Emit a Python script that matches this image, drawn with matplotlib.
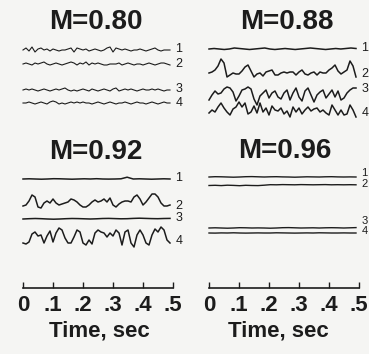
import numpy as np
import matplotlib.pyplot as plt

# values: deflection of each trace in pixels (up = positive)
panel_titles = ["M=0.80", "M=0.88", "M=0.92", "M=0.96"]
channel_names = ["1", "2", "3", "4"]
time_ticks = [0.0, 0.1, 0.2, 0.3, 0.4, 0.5]
time_tick_labels = ["0", ".1", ".2", ".3", ".4", ".5"]

m080_ch1 = [0, 2, -1, 3, -2, 1, 2, 0, 1, -1, 1, 0, -1, 0, 0, 1, 2, -2, 2, 1,
            0, 1, -1, 0, 1, 0, -1, 0, 2, 3, -2, 2, 1, 0, 1, 0, -1, 0, 0, 1,
            0, -1, 0, 1, 2, 0, -1, 0, 0, 0]
m080_ch2 = [0, 1, 0, -1, 1, 0, 1, 2, 0, -1, 0, 1, 0, -1, 0, 1, 2, 1, -1, 1,
            0, 2, -1, 1, 0, 1, 0, -1, -1, 0, 0, 0, 1, -1, 0, 1, 0, -1, 0, 0,
            -1, 0, 1, 0, -1, 0, 1, 1, 0, -1]
m080_ch3 = [0, 1, 0, 1, 0, -1, 0, 1, 0, -1, 0, 1, 0, 1, 2, 0, -1, 0, -1, 0,
            1, 0, -1, 1, 0, -1, 0, 1, 0, -1, 1, 2, -1, 0, 1, 0, 1, 0, -1, 0,
            1, 0, 0, 1, 0, 1, 0, -1, 0, 0]
m080_ch4 = [0, 0, 1, 0, -1, 0, 1, 0, -1, 1, 2, 1, -1, 0, -1, 0, 1, 0, 1, 0,
            1, 0, 0, -1, 0, 1, 0, -1, 0, 1, 0, -1, 0, 0, 1, 0, -1, 0, 1, 0,
            0, -1, 0, 1, 0, -1, 0, 1, 0, 0]

m088_ch1 = [0, 0.5, 0, -0.5, 0, 1, 0.5, 0, -0.5, 0, 0.5, 1, 0, -0.5, 0,
            0.5, 0, -0.5, 0, 0.5, 1, 0.5, 0, -0.5, 0, 0.5, 0, 0.5, 1, 0.5]
m088_ch2 = [0, 1, 3, 7, 14, 10, -4, -2, 0, -1, -1, 2, 6, 8, 2, -4, -1, 0, -3, 1,
            2, 3, -2, -2, 0, 1, 0, 1, 1, -2, 1, 3, -1, -2, 0, 1, -2, 1, 0, 0,
            3, 5, 8, 2, -1, 1, 3, 12, 7, -4]
m088_ch3 = [-5, 0, 4, 1, 2, 6, 8, 7, 3, -6, -1, 5, 6, 8, 6, -4, -10, -1, 2, 5,
            -3, 2, 4, -2, -4, 2, 5, -5, 2, 7, -2, -6, 4, 7, 0, -7, 0, 3, 5, -3,
            1, 5, -2, 4, -5, -3, 2, 5, 7, 7]
m088_ch4 = [-3, 0, -2, 3, 7, 2, -2, -5, 1, 3, 8, 3, 7, -4, -2, 4, -3, 7, -2, 2,
            -5, 4, 0, -1, 2, -4, -1, -7, 3, -2, 2, -4, 0, 3, -1, 1, 2, -2, 0, -3,
            -5, 5, 0, -5, 0, -5, -4, 5, 0, -7]

m092_ch1 = [0, 0.2, 0, -0.2, 0, 0.3, 0.2, 0, -0.2, 0, 0.2, 0, 0.3, 0, -0.1,
            0, 0.2, 1.8, 0, 0.2, 0, -0.2, 0, 0.2, 0]
m092_ch2 = [1, 2, 6, 12, 10, 0, -1, 4, 6, 4, 8, 4, 2, 3, 4, 5, 8, 7, 5, 2,
            0, 0, 2, 5, 7, 5, 6, 8, 5, 9, 2, 0, 3, 5, 6, 6, 5, 10, 12, 8,
            2, 5, 9, 13, 13, 10, 4, 1, 1, 2]
m092_ch3 = [0, 0.3, 0.5, 0.3, 0, -0.2, 0, 0.3, 0.5, 0.4, 0.2, 0, 0.2, 0.5,
            0.6, 0.4, 0.2, 0.3, 0.6, 0.8, 0.6, 0.4, 0.3, 0.5, 0.6]
m092_ch4 = [-5, -6, -4, 4, 6, 2, 3, -5, 2, 7, -4, 5, 10, 8, 0, -5, -5, 1, 8, 6,
            -5, -7, -2, -6, 5, 8, 6, 5, 1, 5, 2, 8, 5, -7, 6, 8, -5, -9, 3, 8,
            3, -5, -7, 3, 9, 6, 11, 8, -2, -5]

m096_ch1 = [0, 0.3, 0.2, 0, -0.2, 0, 0.3, 0.4, 0.2, 0, 0.2, 0.3, 0.1, 0,
            -0.2, 0, 0.2, 0.1, 0, 0.2, 0.3, 0.1, 0, 0.1, 0]
m096_ch2 = [-0.5, -0.3, -0.6, -0.2, -0.4, -0.7, -0.3, -0.5, -0.6, -0.2, 0.3,
            0.2, 0.4, 0.3, 0.2, 0.4, 0.3, 0.2, 0.3, 0.4, 0.2, 0.3, 0.2, 0.3, 0.2]
m096_ch3 = [0, 0.2, 0, -0.2, 0, 0.3, 0.2, 0, 0.1, 0, -0.2, 0, 0.3, 0.4, 0.2,
            0, 0.1, 0.2, 0, 0.2, 0.3, 0.2, 0, 0.2, 0.4]
m096_ch4 = [0, -0.1, 0.1, 0, 0.2, 0, -0.1, 0, 0.1, 0, 0, 0.2, 0.1, 0, -0.1,
            0, 0.1, 0, 0.2, 0.1, 0, 0, 0.1, 0, 0]

panel_traces = [
    [m080_ch1, m080_ch2, m080_ch3, m080_ch4],
    [m088_ch1, m088_ch2, m088_ch3, m088_ch4],
    [m092_ch1, m092_ch2, m092_ch3, m092_ch4],
    [m096_ch1, m096_ch2, m096_ch3, m096_ch4],
]

# layout (pixels of the 369x354 picture)
FIG_W, FIG_H = 369, 354
COL_LEFT = [23, 209]
COL_WIDTH = 150
AX_TOP, AX_BOTTOM = 10, 288
TRACE_END = 0.49
baseline_rows = [[50, 64, 90, 103], [49, 73, 95, 110],
                 [179, 207, 219, 238], [177, 185, 228, 233]]
label_rows = [[49, 64, 89, 103], [48, 74, 89, 113],
              [178, 206, 218, 241], [173, 184, 221, 231]]
label_size = [9, 9, 9, 8]
line_width = [0.8, 1.1, 1.1, 1.0]
xlabel_x = [0.51, 0.46]
title_pos = [(96, 22), (287, 22), (96, 152), (285, 151)]
ink = "#1c1c1c"
paper = "#f5f5f3"
font = "Liberation Sans"

fig = plt.figure(figsize=(FIG_W / 100, FIG_H / 100), dpi=100, facecolor=paper)

axes = []
for k, left in enumerate(COL_LEFT):
    ax = fig.add_axes([left / FIG_W, 1 - AX_BOTTOM / FIG_H,
                       COL_WIDTH / FIG_W, (AX_BOTTOM - AX_TOP) / FIG_H])
    ax.set_facecolor("none")
    ax.set_xlim(0, 0.5)
    ax.set_ylim(AX_BOTTOM, AX_TOP)
    for side in ["top", "left", "right"]:
        ax.spines[side].set_visible(False)
    ax.spines["bottom"].set_linewidth(1.2)
    ax.spines["bottom"].set_color(ink)
    ax.set_yticks([])
    ax.set_xticks(time_ticks)
    ax.set_xticklabels(time_tick_labels, fontsize=16, fontweight="bold",
                       family=font, color=ink)
    ax.tick_params(axis="x", direction="in", length=4, width=1, pad=5, colors=ink)
    ax.set_xlabel("Time, sec", fontsize=16, fontweight="bold",
                  family=font, color=ink)
    ax.xaxis.set_label_coords(xlabel_x[k], -32 / (AX_BOTTOM - AX_TOP))
    axes.append(ax)

for p, traces in enumerate(panel_traces):
    ax = axes[p % 2]
    for c, sig in enumerate(traces):
        sig = np.asarray(sig, dtype=float)
        t = np.linspace(0, TRACE_END, len(sig))
        ax.plot(t, baseline_rows[p][c] - sig, color=ink, lw=line_width[p],
                clip_on=False)
        ax.text(0.508, label_rows[p][c], channel_names[c], fontsize=label_size[p],
                family=font, color=ink, va="center", ha="left")
    x, y = title_pos[p]
    fig.text(x / FIG_W, 1 - y / FIG_H, panel_titles[p], fontsize=20,
             fontweight="bold", family=font, color=ink,
             ha="center", va="center")

fig.savefig("out.png", dpi=100, facecolor=paper)
